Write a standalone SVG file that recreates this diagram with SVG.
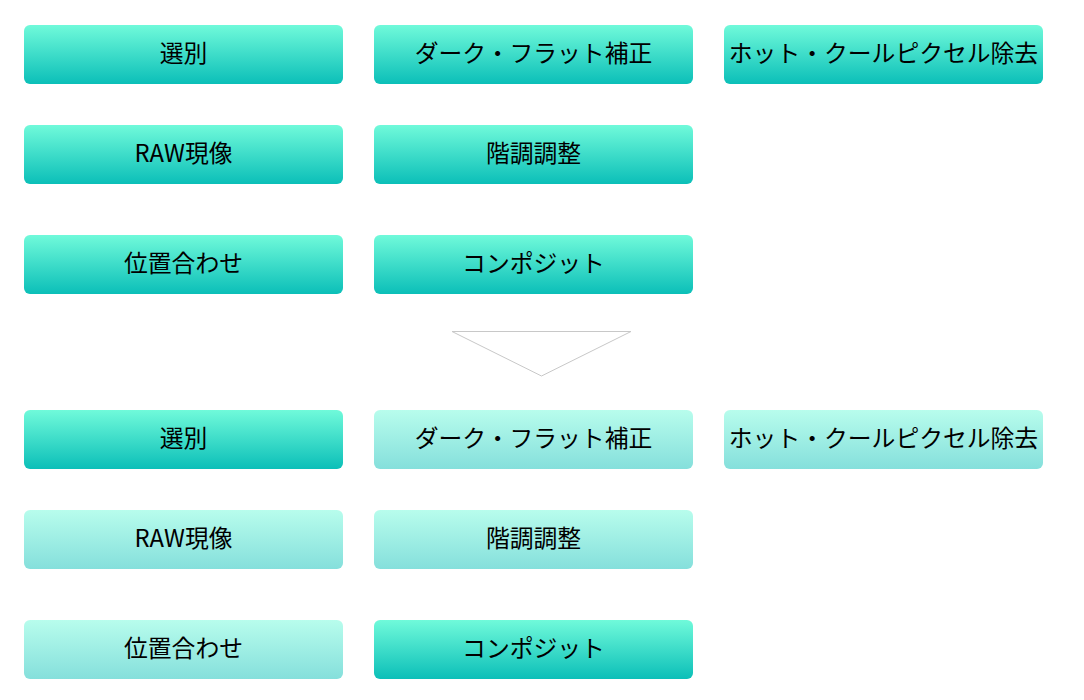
<svg xmlns="http://www.w3.org/2000/svg" width="1084" height="700" viewBox="0 0 1084 700">
<defs>
<linearGradient id="g" x1="0" y1="0" x2="0" y2="1">
<stop offset="0" stop-color="#70fada"/>
<stop offset="1" stop-color="#0bbfb8"/>
</linearGradient>
<style>
.b rect{fill:url(#g);}
.f rect{fill:url(#g);opacity:0.5;}
text{font-family:"Noto Sans CJK JP","Noto Sans",sans-serif;font-size:23.8px;fill:#000;text-anchor:middle;dominant-baseline:central;}
</style>
</defs>
<rect width="1084" height="700" fill="#fff"/>
<g id="n1" class="b"><rect x="24" y="25" width="319" height="59" rx="6"/><text x="183.5" y="51.5">選別</text></g>
<g id="n2" class="b"><rect x="374" y="25" width="319" height="59" rx="6"/><text x="533.5" y="51.5">ダーク・フラット補正</text></g>
<g id="n3" class="b"><rect x="724" y="25" width="319" height="59" rx="6"/><text x="883.5" y="51.5">ホット・クールピクセル除去</text></g>
<g id="n4" class="b"><rect x="24" y="125" width="319" height="59" rx="6"/><text x="183.5" y="151.5">RAW現像</text></g>
<g id="n5" class="b"><rect x="374" y="125" width="319" height="59" rx="6"/><text x="533.5" y="151.5">階調調整</text></g>
<g id="n6" class="b"><rect x="24" y="235" width="319" height="59" rx="6"/><text x="183.5" y="261.5">位置合わせ</text></g>
<g id="n7" class="b"><rect x="374" y="235" width="319" height="59" rx="6"/><text x="533.5" y="261.5">コンポジット</text></g>
<g id="connectors"><polygon points="452,331.5 631,331.5 541.5,376" fill="#fff" stroke="#c8c8c8" stroke-width="1"/></g>
<g id="m1" class="b"><rect x="24" y="410" width="319" height="59" rx="6"/><text x="183.5" y="436.5">選別</text></g>
<g id="m2" class="f"><rect x="374" y="410" width="319" height="59" rx="6"/><text x="533.5" y="436.5">ダーク・フラット補正</text></g>
<g id="m3" class="f"><rect x="724" y="410" width="319" height="59" rx="6"/><text x="883.5" y="436.5">ホット・クールピクセル除去</text></g>
<g id="m4" class="f"><rect x="24" y="510" width="319" height="59" rx="6"/><text x="183.5" y="536.5">RAW現像</text></g>
<g id="m5" class="f"><rect x="374" y="510" width="319" height="59" rx="6"/><text x="533.5" y="536.5">階調調整</text></g>
<g id="m6" class="f"><rect x="24" y="620" width="319" height="59" rx="6"/><text x="183.5" y="646.5">位置合わせ</text></g>
<g id="m7" class="b"><rect x="374" y="620" width="319" height="59" rx="6"/><text x="533.5" y="646.5">コンポジット</text></g>
</svg>
